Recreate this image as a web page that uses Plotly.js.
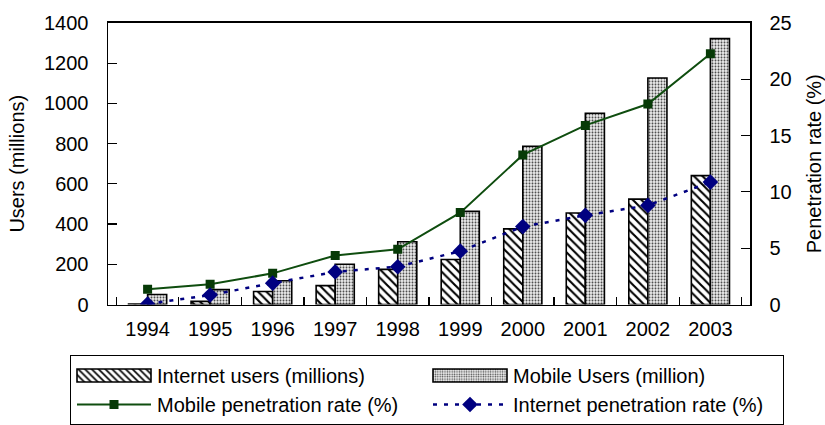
<!DOCTYPE html>
<html>
<head>
<meta charset="utf-8">
<script src="https://cdn.plot.ly/plotly-3.0.1.min.js"></script>
<style>
  html, body { margin: 0; padding: 0; background: #ffffff; }
  #chart { width: 825px; height: 425px; }
</style>
</head>
<body>
<div id="chart"></div>
<script>
// Years on the category axis
const years = ['1994', '1995', '1996', '1997', '1998', '1999', '2000', '2001', '2002', '2003'];

// Users in millions (left axis)
const internetUsers = [3, 16, 65, 94, 175, 224, 376, 455, 524, 641];
const mobileUsers = [50, 74, 118, 200, 312, 463, 787, 951, 1126, 1322];

// Penetration rates in percent (right axis)
const mobilePenetration = [1.35, 1.8, 2.77, 4.36, 4.9, 8.16, 13.28, 15.9, 17.8, 22.26];
const internetPenetration = [0.05, 0.85, 1.9, 2.9, 3.36, 4.74, 6.92, 7.92, 8.8, 10.87];

// Tick values for the two value axes
const usersTicks = [0, 200, 400, 600, 800, 1000, 1200, 1400];
const rateTicks = [0, 5, 10, 15, 20, 25];

const FONT = '"Liberation Sans", Arial, Helvetica, sans-serif';
const W = 825, H = 425;
// plot frame in pixels: left, right, top, bottom
const FRAME = { l: 108, r: 750, t: 23, b: 306 };

const traces = [
  {
    type: 'bar',
    name: 'Internet users (millions)',
    x: years,
    y: internetUsers,
    marker: {
      color: '#ffffff',
      line: { color: '#000000', width: 1.6 },
      pattern: { shape: '\\', fgcolor: '#000000', bgcolor: '#ffffff', size: 6, solidity: 0.35 }
    }
  },
  {
    type: 'bar',
    name: 'Mobile Users (million)',
    x: years,
    y: mobileUsers,
    marker: {
      color: '#e6e6e6',
      line: { color: '#000000', width: 1.6 },
      pattern: { shape: '.', fgcolor: '#444444', bgcolor: '#f0f0f0', size: 3, solidity: 0.35 }
    }
  },
  {
    type: 'scatter',
    mode: 'lines+markers',
    name: 'Mobile penetration rate (%)',
    x: years,
    y: mobilePenetration,
    yaxis: 'y2',
    line: { color: '#0f4d0f', width: 2 },
    marker: { symbol: 'square', size: 9, color: '#073a07' }
  },
  {
    type: 'scatter',
    mode: 'lines+markers',
    name: 'Internet penetration rate (%)',
    x: years,
    y: internetPenetration,
    yaxis: 'y2',
    line: { color: '#000080', width: 2.5, dash: '4px,7px' },
    marker: { symbol: 'diamond', size: 12, color: '#000080' }
  }
];

const xDomain = [FRAME.l / W, FRAME.r / W];
const yDomain = [1 - FRAME.b / H, 1 - FRAME.t / H];

const layout = {
  width: W,
  height: H,
  paper_bgcolor: '#ffffff',
  plot_bgcolor: '#ffffff',
  font: { family: FONT, size: 20, color: '#000000' },
  margin: { l: 0, r: 0, t: 0, b: 0, pad: 0 },
  barmode: 'group',
  bargap: 0.39,
  bargroupgap: 0,
  showlegend: true,
  legend: {
    orientation: 'h',
    x: 70 / W, y: 1 - 357 / H,
    xanchor: 'left', yanchor: 'top',
    bordercolor: '#000000', borderwidth: 1,
    bgcolor: '#ffffff',
    entrywidth: 265, entrywidthmode: 'pixels',
    itemwidth: 76,
    font: { family: FONT, size: 20, color: '#000000' },
    traceorder: 'normal'
  },
  xaxis: {
    type: 'category',
    domain: xDomain,
    automargin: false,
    showgrid: false,
    showline: true, linecolor: '#000000', linewidth: 1.5,
    mirror: true,
    ticks: 'inside', ticklen: 8, tickwidth: 1.2, tickcolor: '#000000',
    tickson: 'boundaries',
    ticklabelstandoff: 6,
    tickfont: { family: FONT, size: 20, color: '#000000' }
  },
  yaxis: {
    domain: yDomain,
    automargin: false,
    range: [0, 1400],
    tickvals: usersTicks,
    showgrid: false, zeroline: false,
    showline: true, linecolor: '#000000', linewidth: 1.5,
    ticks: 'inside', ticklen: 9, tickwidth: 1.2, tickcolor: '#000000',
    ticklabelstandoff: 14,
    tickfont: { family: FONT, size: 20, color: '#000000' },
    title: { text: 'Users (millions)', font: { family: FONT, size: 20, color: '#000000' }, standoff: 14 }
  },
  yaxis2: {
    overlaying: 'y',
    side: 'right',
    automargin: false,
    range: [0, 25],
    tickvals: rateTicks,
    showgrid: false, zeroline: false,
    showline: true, linecolor: '#000000', linewidth: 1.5,
    ticks: 'inside', ticklen: 9, tickwidth: 1.2, tickcolor: '#000000',
    ticklabelstandoff: 14,
    tickfont: { family: FONT, size: 20, color: '#000000' },
    title: { text: 'Penetration rate (%)', font: { family: FONT, size: 20, color: '#000000' }, standoff: 16 }
  }
};

// Widen the legend keys so each one fills the space before its label
function widenLegendKeys(gd) {
  const left = 6, right = 80, mid = (left + right) / 2;
  gd.querySelectorAll('.legend .traces').forEach(function (item) {
    const hasLine = item.querySelector('.legendlines path') !== null;
    item.querySelectorAll('.legendlines path').forEach(function (p) {
      p.setAttribute('d', 'M' + left + ',0H' + right);
    });
    item.querySelectorAll('.legendpoints path').forEach(function (p) {
      if (hasLine || p.classList.contains('scatterpts')) {
        p.setAttribute('transform', 'translate(' + mid + ',0)');
      } else {
        p.setAttribute('d', 'M' + right + ',6.5H' + left + 'V-6.5H' + right + 'Z');
        p.setAttribute('transform', 'translate(0,0)');
      }
    });
  });
}

const gd = document.getElementById('chart');
Plotly.newPlot(gd, traces, layout, { staticPlot: true, displayModeBar: false })
  .then(function () { widenLegendKeys(gd); });
</script>
</body>
</html>
